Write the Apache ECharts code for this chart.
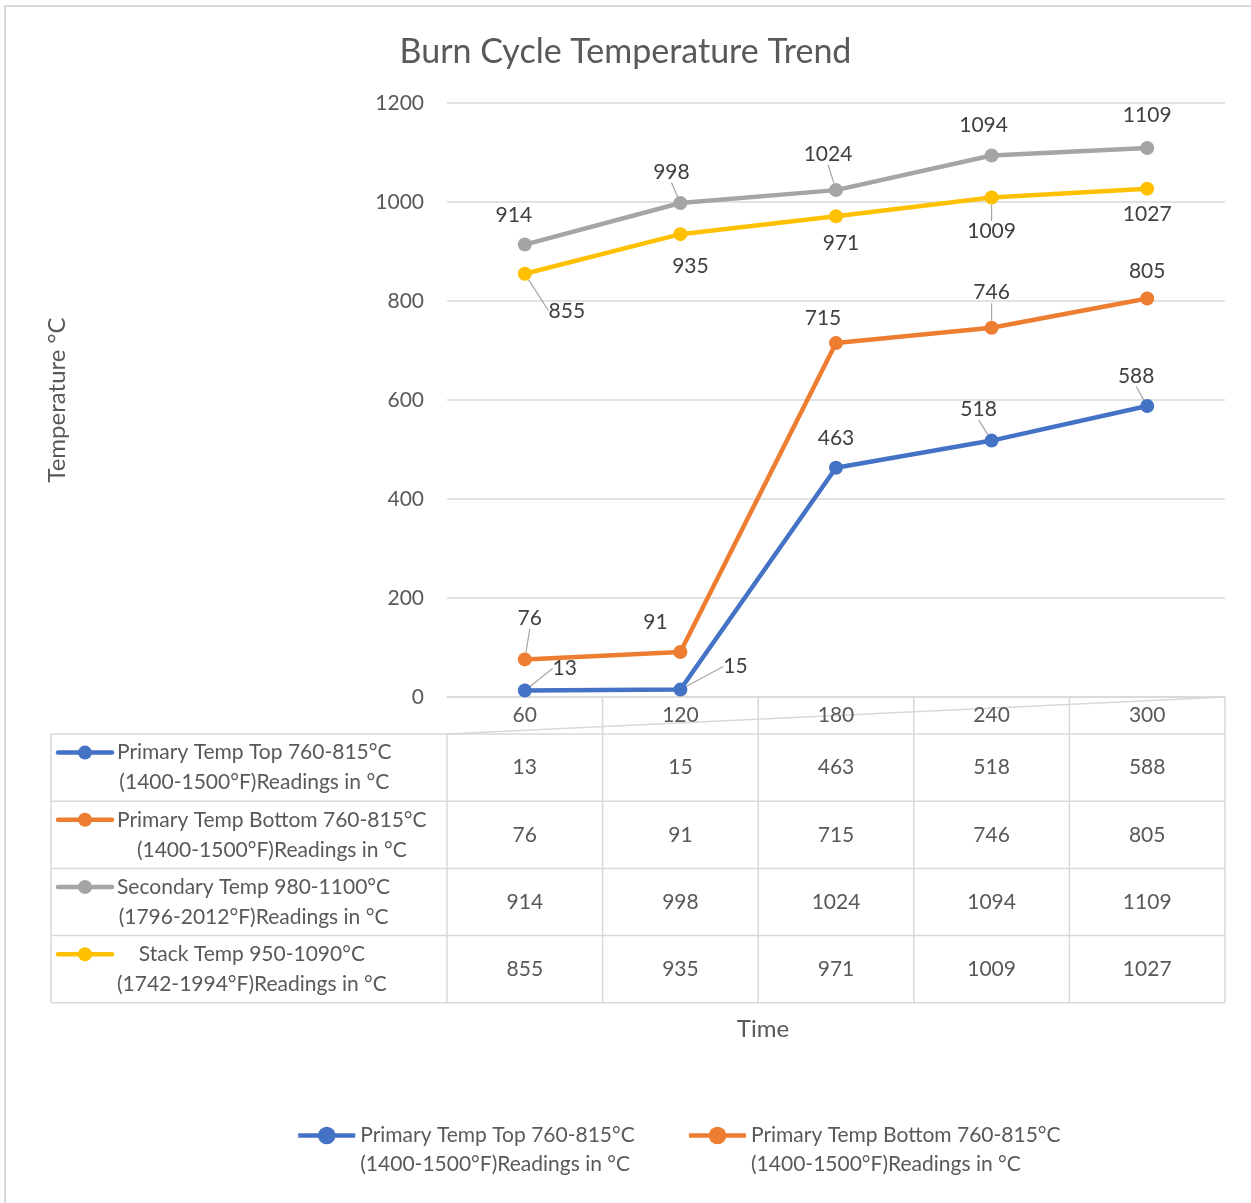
<!DOCTYPE html>
<html>
<head>
<meta charset="utf-8">
<title>Burn Cycle Temperature Trend</title>
<script src="https://cdn.jsdelivr.net/npm/echarts@6/dist/echarts.min.js"></script>
<style>
    html, body {margin: 0; padding: 0; background: #fff;}
    #main {width: 1251px; height: 1203px;}
</style>
</head>
<body>
<div id="main"></div>
<script>
'use strict';

var FONT = 'Lato';
var TXT = '#595959';
var LINE_C = '#D9D9D9';

// data
var categories = ['60', '120', '180', '240', '300'];
var primaryTop = [13, 15, 463, 518, 588];
var primaryBottom = [76, 91, 715, 746, 805];
var secondaryTemp = [914, 998, 1024, 1094, 1109];
var stackTemp = [855, 935, 971, 1009, 1027];
var seriesNames = [
    'Primary Temp Top 760-815°C\n(1400-1500°F)Readings in °C',
    'Primary Temp Bottom 760-815°C\n(1400-1500°F)Readings in °C',
    'Secondary Temp 980-1100°C\n(1796-2012°F)Readings in °C',
    'Stack Temp 950-1090°C\n(1742-1994°F)Readings in °C'
];
var yMin = 0, yMax = 1200, yStep = 200;

var allValues = [primaryTop, primaryBottom, secondaryTemp, stackTemp];
var seriesColors = ['#4472C4', '#ED7D31', '#A5A5A5', '#FFC000'];

// where each data label sits, px from its marker
var labelShift = [
    [[40, -22], [55, -23], [0, -30], [-13, -31], [-11, -30]],
    [[5, -41], [-25, -30], [-13, -25], [0, -35], [0, -27]],
    [[-11, -29], [-9, -31], [-8, -36], [-8, -30], [0, -33]],
    [[42, 37], [10, 32], [5, 27], [0, 34], [0, 26]]
];
// which labels get a leader line
var leader = [[1, 1, 0, 1, 1], [1, 0, 0, 1, 0], [0, 1, 1, 0, 0], [1, 0, 0, 1, 0]];

var chart = echarts.init(document.getElementById('main'));

function makeSeries(k) {
    return {
        name: seriesNames[k],
        type: 'line',
        data: allValues[k].map(function (v, i) {
            return {value: v, labelLine: {show: !!leader[k][i]}};
        }),
        symbol: 'circle',
        symbolSize: 14,
        lineStyle: {width: 4.5, color: seriesColors[k]},
        itemStyle: {color: seriesColors[k]},
        label: {show: true, position: 'inside', color: '#404040', fontFamily: FONT, fontSize: 21},
        labelLine: {show: false, lineStyle: {color: '#A6A6A6', width: 1.2}},
        labelLayout: function (p) {
            var s = labelShift[k][p.dataIndex];
            return {dx: s[0], dy: s[1]};
        },
        emphasis: {disabled: true}
    };
}

var option = {
    animation: false,
    textStyle: {fontFamily: FONT},
    title: {
        text: 'Burn Cycle Temperature Trend',
        left: 'center',
        top: 30,
        textStyle: {color: TXT, fontFamily: FONT, fontSize: 34, fontWeight: 'normal'}
    },
    grid: {left: 447, right: 26, top: 103, bottom: 506},
    legend: {
        data: [seriesNames[0], seriesNames[1]],
        left: 291,
        top: 1087,
        itemWidth: 57,
        itemHeight: 22,
        itemGap: 52,
        lineStyle: {width: 4.5},
        // blank first line keeps the icon level with the first text line
        formatter: function (name) {
            return '\n' + name;
        },
        textStyle: {color: TXT, fontFamily: FONT, fontSize: 21, lineHeight: 29}
    },
    xAxis: {
        type: 'category',
        data: categories,
        boundaryGap: true,
        axisTick: {show: false},
        axisLine: {lineStyle: {color: LINE_C, width: 1.5}},
        axisLabel: {color: TXT, fontSize: 21, margin: 8},
        name: 'Time',
        nameLocation: 'middle',
        nameGap: 320,
        nameTextStyle: {color: TXT, fontSize: 24, padding: [0, 146, 0, 0]}
    },
    yAxis: {
        type: 'value',
        min: yMin,
        max: yMax,
        interval: yStep,
        axisLine: {show: false},
        axisTick: {show: false},
        axisLabel: {
            color: TXT, fontSize: 21, margin: 23,
            formatter: function (v) {
                return String(v);
            }
        },
        splitLine: {lineStyle: {color: LINE_C, width: 1.5}},
        name: 'Temperature °C',
        nameLocation: 'middle',
        nameGap: 378,
        nameTextStyle: {color: TXT, fontSize: 24}
    },
    series: [makeSeries(0), makeSeries(1), makeSeries(2), makeSeries(3)]
};

chart.setOption(option);

// data table under the plot, lined up with the category axis
function textWidth(s) {
    var ctx = document.createElement('canvas').getContext('2d');
    ctx.font = '21px ' + FONT;
    return ctx.measureText(s).width;
}

function hLine(x1, x2, y) {
    return {type: 'line', shape: {x1: x1, y1: y, x2: x2, y2: y}, style: {stroke: LINE_C, lineWidth: 1.5}, silent: true};
}
function vLine(x, y1, y2) {
    return {type: 'line', shape: {x1: x, y1: y1, x2: x, y2: y2}, style: {stroke: LINE_C, lineWidth: 1.5}, silent: true};
}

function buildTable() {
    var xs = categories.map(function (c, i) {
        return chart.convertToPixel({xAxisIndex: 0}, i);
    });
    var band = xs[1] - xs[0];
    var gx0 = xs[0] - band / 2;
    var gx1 = xs[xs.length - 1] + band / 2;
    var y0 = chart.convertToPixel({yAxisIndex: 0}, yMin);
    var headH = 37, rowH = 67.2, tx0 = 51;
    var top = y0 + headH;
    var bottom = top + rowH * allValues.length;
    var els = [];

    // outer chart border
    els.push({type: 'rect', shape: {x: 5, y: 6, width: 1400, height: 1400},
        style: {fill: 'none', stroke: LINE_C, lineWidth: 2}, silent: true});

    els.push(hLine(tx0, gx1, top));
    for (var r = 0; r < allValues.length; r++) {
        els.push(hLine(tx0, gx1, top + rowH * (r + 1)));
    }
    els.push(vLine(tx0, top, bottom));
    els.push(vLine(gx0, top, bottom));
    for (var j = 1; j <= categories.length; j++) {
        els.push(vLine(gx0 + band * j, y0, bottom));
    }
    els.push({type: 'line', shape: {x1: gx0, y1: top, x2: gx1, y2: y0},
        style: {stroke: LINE_C, lineWidth: 1.5}, silent: true});

    allValues.forEach(function (vals, k) {
        var cy = top + rowH * k + rowH / 2;
        vals.forEach(function (v, i) {
            els.push({type: 'text', x: xs[i], y: cy,
                style: {text: String(v), fill: TXT, font: '21px ' + FONT, textAlign: 'center', textVerticalAlign: 'middle'},
                silent: true});
        });
        var lines = seriesNames[k].split('\n');
        var w = Math.max(textWidth(lines[0]), textWidth(lines[1]));
        var ly = cy - 15;
        els.push({type: 'line', shape: {x1: 58, y1: ly, x2: 112, y2: ly},
            style: {stroke: seriesColors[k], lineWidth: 4.5, lineCap: 'round'}, silent: true});
        els.push({type: 'circle', shape: {cx: 85, cy: ly, r: 7}, style: {fill: seriesColors[k]}, silent: true});
        els.push({type: 'text', x: 117 + w / 2, y: cy,
            style: {text: seriesNames[k], fill: TXT, font: '21px ' + FONT, textAlign: 'center',
                textVerticalAlign: 'middle', lineHeight: 30},
            silent: true});
    });

    chart.setOption({graphic: [{type: 'group', children: els}]});
}

buildTable();
</script>
</body>
</html>
